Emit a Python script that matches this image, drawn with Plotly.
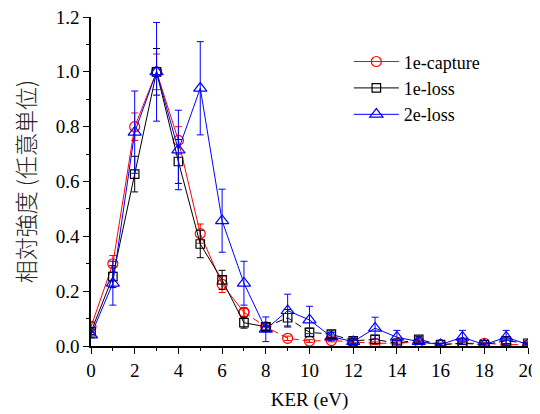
import plotly.graph_objects as go

ker = list(range(0, 21))

capture = [0.07, 0.30, 0.80, 1.00, 0.75, 0.41, 0.225, 0.123, 0.07, 0.028, 0.018,
           0.02, 0.015, 0.01, 0.01, 0.015, 0.005, 0.01, 0.01, 0.005, 0.005]
capture_err = [0.02, 0.03, 0.05, 0.065, 0.05, 0.035, 0.03, 0.015, 0.01, 0.008, 0.005,
               0.005, 0.005, 0.005, 0.005, 0.005, 0.004, 0.004, 0.004, 0.004, 0.004]

loss1 = [0.052, 0.253, 0.627, 1.00, 0.673, 0.372, 0.241, 0.085, 0.07, 0.103, 0.05,
         0.043, 0.019, 0.024, 0.01, 0.024, 0.005, 0.01, 0.005, 0.019, 0.01]
loss1_err = [0.01, 0.04, 0.065, 0.085, 0.08, 0.05, 0.035, 0.02, 0.015, 0.03, 0.015,
             0.012, 0.008, 0.015, 0.01, 0.01, 0.005, 0.005, 0.005, 0.01, 0.005]

loss2 = [0.04, 0.229, 0.78, 1.00, 0.715, 0.94, 0.457, 0.229, 0.061, 0.129, 0.095,
         0.034, 0.016, 0.065, 0.032, 0.016, 0.005, 0.032, 0.005, 0.032, 0.005]
loss2_err = [0.01, 0.08, 0.15, 0.18, 0.145, 0.17, 0.115, 0.08, 0.045, 0.06, 0.05,
             0.015, 0.008, 0.04, 0.025, 0.01, 0.005, 0.025, 0.005, 0.025, 0.005]

series = [
    ("1e-capture", capture, capture_err, "#ff0000", "circle-open", 10, 7),
    ("1e-loss", loss1, loss1_err, "#000000", "square-open", 8.5, 8),
    ("2e-loss", loss2, loss2_err, "#0000ff", "triangle-up-open", 11.5, 20),
]

fig = go.Figure()
for name, y, e, color, sym, size, split in series:
    fig.add_trace(go.Scatter(
        x=ker[:split + 1], y=y[:split + 1], name=name, mode="lines+markers",
        line=dict(color=color, width=1),
        marker=dict(symbol=sym, size=size, color=color, line=dict(width=1.2, color=color)),
        error_y=dict(type="data", array=e[:split + 1], color=color, thickness=1, width=3.5),
    ))
    if split < 20:
        fig.add_trace(go.Scatter(
            x=ker[split:], y=y[split:], name=name, mode="lines+markers",
            line=dict(color=color, width=1, dash="7px,4px"),
            marker=dict(symbol=sym, size=size, color=color, line=dict(width=1.2, color=color)),
            error_y=dict(type="data", array=e[split:], color=color, thickness=1, width=3.5),
            showlegend=False,
        ))

serif = "Liberation Serif"
tick_font = dict(family=serif, size=19, color="black")

fig.update_layout(
    width=532, height=406,
    margin=dict(l=83, r=12, t=9, b=68, autoexpand=False),
    plot_bgcolor="white", paper_bgcolor="white",
    font=tick_font,
    showlegend=True,
    legend=dict(x=0.59, y=0.92, xanchor="left", yanchor="top",
                bgcolor="rgba(0,0,0,0)", font=dict(family=serif, size=18, color="black"),
                tracegroupgap=0, itemwidth=45),
    xaxis=dict(
        range=[0, 20], tickmode="linear", tick0=0, dtick=2, automargin=False,
        ticklabeloverflow="allow",
        showline=True, linecolor="black", linewidth=1.5, mirror=False,
        ticks="outside", ticklen=6, tickwidth=1.2, tickcolor="black",
        minor=dict(dtick=1, ticks="outside", ticklen=3, tickcolor="black", tickwidth=1),
        showgrid=False, zeroline=False,
        title=dict(text="KER (eV)", font=dict(family=serif, size=19, color="black"), standoff=13),
        tickfont=tick_font,
    ),
    yaxis=dict(
        range=[0, 1.2], tickmode="linear", tick0=0, dtick=0.2, tickformat=".1f", automargin=False,
        ticklabeloverflow="allow",
        showline=True, linecolor="black", linewidth=1.5, mirror=False,
        ticks="outside", ticklen=6, tickwidth=1.2, tickcolor="black",
        minor=dict(dtick=0.1, ticks="outside", ticklen=3, tickcolor="black", tickwidth=1),
        showgrid=False, zeroline=False,
        title=dict(text="相対強度 (任意単位)",
                   font=dict(family="Noto Sans CJK JP", size=23, color="#222", weight=300),
                   standoff=20),
        tickfont=tick_font,
    ),
)

fig.write_html("out.html")
